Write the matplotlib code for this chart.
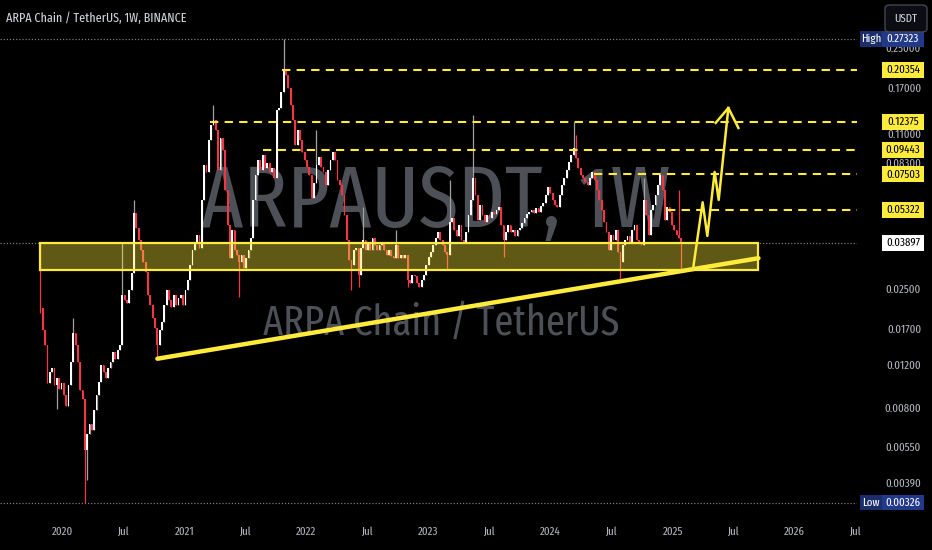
import matplotlib
matplotlib.use("Agg")
import matplotlib.pyplot as plt
import matplotlib.dates as mdates
from matplotlib.patches import Rectangle, FancyBboxPatch
from matplotlib import font_manager
import pandas as pd

# weekly closes (first candle opens at first_open)
start_week = "2019-10-28"
first_open = 0.0364
closes = [
    0.0210, 0.0170, 0.0147, 0.0102, 0.0114, 0.0118, 0.0100, 0.0107, 0.0097, 0.0102,
    0.0091, 0.0082, 0.0100, 0.0125, 0.0165, 0.0147, 0.0125, 0.0096, 0.0088, 0.0054,
    0.0063, 0.0069, 0.0065, 0.0079, 0.0091, 0.0103, 0.0121, 0.0114, 0.0107, 0.0118,
    0.0125, 0.0137, 0.0129, 0.0140, 0.0147, 0.0237, 0.0226, 0.0220, 0.0249, 0.0292,
    0.0519, 0.0450, 0.0401, 0.0364, 0.0325, 0.0295, 0.0237, 0.0216, 0.0190, 0.0173,
    0.0147, 0.0170, 0.0183, 0.0216, 0.0249, 0.0226, 0.0212, 0.0237, 0.0216, 0.0231,
    0.0237, 0.0216, 0.0249, 0.0274, 0.0315, 0.0364, 0.0390, 0.0421, 0.0371, 0.0588,
    0.0821, 0.0768, 0.1043, 0.1204, 0.1263, 0.1147, 0.0783, 0.1063, 0.0948, 0.0647,
    0.0463, 0.0337, 0.0441, 0.0364, 0.0347, 0.0325, 0.0347, 0.0306, 0.0337, 0.0364,
    0.0409, 0.0588, 0.0746, 0.0861, 0.0783, 0.0904, 0.0798, 0.0837, 0.0768, 0.0798,
    0.0726, 0.1389, 0.1416, 0.1649, 0.2035, 0.1940, 0.1714, 0.1457, 0.1263, 0.0994,
    0.1147, 0.1043, 0.0930, 0.0861, 0.0806, 0.0746, 0.0600, 0.0691, 0.0821, 0.0888,
    0.0806, 0.0768, 0.0678, 0.0783, 0.0861, 0.0930, 0.0861, 0.0711, 0.0678, 0.0617,
    0.0509, 0.0401, 0.0331, 0.0315, 0.0364, 0.0371, 0.0287, 0.0371, 0.0401, 0.0364,
    0.0390, 0.0364, 0.0409, 0.0382, 0.0364, 0.0382, 0.0390, 0.0364, 0.0347, 0.0364,
    0.0344, 0.0337, 0.0382, 0.0337, 0.0347, 0.0337, 0.0347, 0.0274, 0.0266, 0.0287,
    0.0284, 0.0266, 0.0256, 0.0274, 0.0287, 0.0315, 0.0340, 0.0357, 0.0382, 0.0409,
    0.0433, 0.0401, 0.0382, 0.0357, 0.0347, 0.0477, 0.0495, 0.0441, 0.0417, 0.0463,
    0.0401, 0.0390, 0.0433, 0.0509, 0.0588, 0.0726, 0.0617, 0.0486, 0.0560, 0.0509,
    0.0477, 0.0509, 0.0495, 0.0524, 0.0514, 0.0534, 0.0550, 0.0463, 0.0401, 0.0433,
    0.0463, 0.0433, 0.0441, 0.0417, 0.0441, 0.0450, 0.0472, 0.0495, 0.0514, 0.0524,
    0.0534, 0.0519, 0.0545, 0.0524, 0.0555, 0.0571, 0.0617, 0.0665, 0.0628, 0.0588,
    0.0560, 0.0550, 0.0617, 0.0678, 0.0726, 0.0783, 0.0845, 0.0904, 0.0966, 0.0879,
    0.0798, 0.0746, 0.0726, 0.0698, 0.0678, 0.0726, 0.0768, 0.0711, 0.0647, 0.0588,
    0.0534, 0.0477, 0.0433, 0.0364, 0.0421, 0.0401, 0.0441, 0.0357, 0.0325, 0.0382,
    0.0401, 0.0417, 0.0393, 0.0441, 0.0463, 0.0401, 0.0390, 0.0382, 0.0588, 0.0509,
    0.0421, 0.0534, 0.0560, 0.0617, 0.0678, 0.0746, 0.0647, 0.0486, 0.0550, 0.0524,
    0.0463, 0.0441, 0.0421, 0.0409, 0.0390,
]
# wicks that stick out beyond the bodies (candle index -> price)
spike_highs = {0: 0.0390, 14: 0.0190, 35: 0.0390, 40: 0.0588, 74: 0.1457, 104: 0.27323,
               118: 0.1147, 138: 0.0550, 152: 0.0441, 175: 0.0711, 185: 0.1324,
               228: 0.1239, 229: 0.1094, 258: 0.0726, 273: 0.0647}
spike_lows = {0: 0.0200, 7: 0.0080, 19: 0.00326, 20: 0.00405, 50: 0.0131, 85: 0.0233,
              133: 0.0249, 136: 0.0256, 157: 0.0256, 174: 0.0301, 198: 0.0340,
              248: 0.0274, 274: 0.0301}

levels = [0.20354, 0.12375, 0.09443, 0.07503, 0.05322]
level_starts = ["2021-10-21", "2021-03-18", "2021-08-25", "2024-05-12", "2024-12-16"]
high_price = 0.27323
low_price = 0.00326
last_price = 0.03897
price_ticks = [0.25, 0.17, 0.11, 0.083, 0.025, 0.017, 0.012, 0.008, 0.0055, 0.0039]
zone_prices = [0.0301, 0.0390]
zone_dates = ["2019-10-27", "2025-09-15"]
trend_dates = ["2020-10-12", "2025-09-15"]
trend_prices = [0.0129, 0.0337]
path_dates = ["2025-03-04", "2025-04-01", "2025-04-15", "2025-05-07", "2025-05-19", "2025-06-17"]
path_prices = [0.0309, 0.0575, 0.0417, 0.0768, 0.0588, 0.1416]
head_dates = ["2025-05-10", "2025-06-17", "2025-07-17"]
head_prices = [0.1228, 0.1416, 0.1170]
time_ticks = ["2020-01-01", "2020-07-01", "2021-01-01", "2021-07-01", "2022-01-01", "2022-07-01",
              "2023-01-01", "2023-07-01", "2024-01-01", "2024-07-01", "2025-01-01", "2025-07-01",
              "2026-01-01", "2026-07-01"]
time_labels = ["2020", "Jul", "2021", "Jul", "2022", "Jul", "2023", "Jul", "2024", "Jul",
               "2025", "Jul", "2026", "Jul"]

BG = "#000000"
UP = "#ffffff"
DOWN = "#f23645"
YEL = "#ffeb3b"
TXT = "#b2b5be"

names = {f.name for f in font_manager.fontManager.ttflist}
narrow = next((n for n in ["Fira Sans Extra Condensed", "Fira Sans Condensed", "Barlow Condensed",
                           "Archivo Narrow"] if n in names), "DejaVu Sans")
plt.rcParams["font.family"] = [narrow, "DejaVu Sans"]

W, H = 932, 550
fig = plt.figure(figsize=(W / 100, H / 100), dpi=100, facecolor=BG)
ax = fig.add_axes([0, 40 / H, 857 / W, 510 / H])
ax.set_facecolor(BG)
ax.set_yscale("log")
ax.set_ylim(0.00304, 0.3972)
ax.set_xlim(pd.Timestamp("2019-06-29"), pd.Timestamp("2026-07-07"))
ax.axis("off")

dates = pd.date_range(start_week, periods=len(closes), freq="7D")
opens = [first_open] + closes[:-1]
highs, lows, cols = [], [], []
for i, (o, c) in enumerate(zip(opens, closes)):
    highs.append(max(o, c, spike_highs.get(i, 0)))
    lows.append(min(o, c, spike_lows.get(i, 1)))
    cols.append(UP if c >= o else DOWN)
wick_cols = ["#a0a0a0" if c == UP else DOWN for c in cols]
bottoms = [min(o, c) for o, c in zip(opens, closes)]
heights = [max(abs(c - o), 0.0002) for o, c in zip(opens, closes)]

# watermark behind the candles
ax.text(0.508, 0.60, "ARPAUSDT, 1W", transform=ax.transAxes, ha="center", va="center",
        fontsize=63, color="#4e5058", zorder=0)
ax.text(0.5146, 0.366, "ARPA Chain / TetherUS", transform=ax.transAxes, ha="center", va="center",
        fontsize=30, color="#4e5058", zorder=0)

ax.vlines(dates, lows, highs, colors=wick_cols, lw=0.9, zorder=2)
ax.bar(dates, heights, bottom=bottoms, width=5.4, color=cols, lw=0, zorder=2)

# dotted price lines
for p in [high_price, low_price, last_price]:
    ax.axhline(p, color="#787b86", lw=0.9, ls=(0, (1, 1.5)), zorder=1)

# support zone
z0, z1 = mdates.date2num(pd.Timestamp(zone_dates[0])), mdates.date2num(pd.Timestamp(zone_dates[1]))
ax.add_patch(Rectangle((z0, zone_prices[0]), z1 - z0, zone_prices[1] - zone_prices[0],
                       facecolor=YEL, alpha=0.38, lw=0, zorder=3))
ax.add_patch(Rectangle((z0, zone_prices[0]), z1 - z0, zone_prices[1] - zone_prices[0],
                       facecolor="none", edgecolor=YEL, lw=1.6, zorder=4))

# resistance levels
xmax = ax.get_xlim()[1]
for lv, st in zip(levels, level_starts):
    ax.plot([mdates.date2num(pd.Timestamp(st)), xmax], [lv, lv], color=YEL, lw=1.5,
            dashes=(4, 3), zorder=4)

# trend line and projected path
ax.plot(pd.to_datetime(trend_dates), trend_prices, color=YEL, lw=3.2, solid_capstyle="round", zorder=5)
ax.plot(pd.to_datetime(path_dates), path_prices, color=YEL, lw=1.8, zorder=5)
ax.plot(pd.to_datetime(head_dates), head_prices, color=YEL, lw=1.8, zorder=5)

ax.text(6 / 857, (510 - 18) / 510, "ARPA Chain / TetherUS, 1W, BINANCE", transform=ax.transAxes,
        ha="left", va="center", fontsize=9.5, color="#d1d4dc")

# time axis labels
for d, lab in zip(time_ticks, time_labels):
    ax.text(pd.Timestamp(d), (510 - 532) / 510, lab, transform=ax.get_xaxis_transform(),
            ha="center", va="center", fontsize=8.5, color=TXT, clip_on=False)

# price scale on the right
axr = fig.add_axes([857 / W, 40 / H, 75 / W, 510 / H])
axr.set_facecolor(BG)
axr.set_yscale("log")
axr.set_ylim(ax.get_ylim())
axr.set_xlim(0, 75)
axr.axis("off")

for p in price_ticks:
    axr.text(64, p, f"{p:.5f}", ha="right", va="center", fontsize=8.5, color=TXT)


def tag(price, text, face, fg, x0=25, x1=67):
    f = 10 ** (8 / 241)
    axr.add_patch(Rectangle((x0, price / f), x1 - x0, price * f - price / f, facecolor=face, lw=0, zorder=3))
    axr.text((x0 + x1) / 2, price, text, ha="center", va="center", fontsize=8.5, color=fg, zorder=4)


for lv in levels:
    tag(lv, f"{lv:.5f}", YEL, "#000000")
tag(last_price, f"{last_price:.5f}", "#ffffff", "#000000")
tag(high_price, f"{high_price:.5f}", "#22398a", "#ffffff")
tag(high_price, "High", "#1b2d6b", "#ffffff", 3, 25)
tag(low_price, f"{low_price:.5f}", "#22398a", "#ffffff")
tag(low_price, "Low", "#1b2d6b", "#ffffff", 3, 25)

# currency button
fig.patches.append(FancyBboxPatch((885 / W, 1 - 32 / H), 42 / W, 27 / H, boxstyle="round,pad=0,rounding_size=0.006",
                                  transform=fig.transFigure, facecolor="#0b0d13", edgecolor="#434651", lw=1))
fig.text(906 / W, 1 - 18.5 / H, "USDT", ha="center", va="center", fontsize=8.5, color="#d1d4dc")

fig.savefig("out.png", dpi=100, facecolor=BG)
